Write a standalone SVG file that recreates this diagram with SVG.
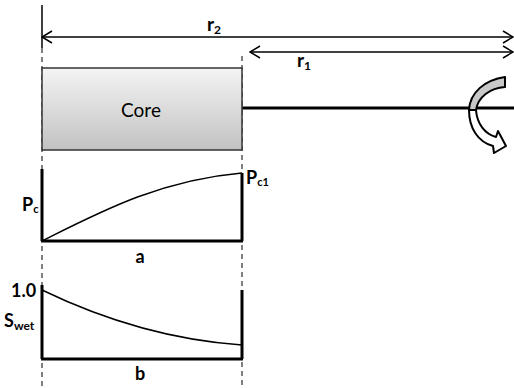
<svg xmlns="http://www.w3.org/2000/svg" width="514" height="388" viewBox="0 0 514 388">
<defs>
<linearGradient id="coreGrad" x1="0" y1="0" x2="0" y2="1">
<stop offset="0" stop-color="#f4f4f4"/>
<stop offset="1" stop-color="#c2c2c2"/>
</linearGradient>
<marker id="chev" viewBox="0 0 12 14" refX="11" refY="7" markerWidth="12" markerHeight="14" markerUnits="userSpaceOnUse" orient="auto-start-reverse">
<path d="M1,1 L11,7 L1,13" fill="none" stroke="#000" stroke-width="1.5"/>
</marker>
</defs>
<style>
.lbl{font-family:"Lato","Open Sans","Liberation Sans",sans-serif;font-weight:bold;fill:#000;}
.dash{stroke:#000;stroke-width:1;stroke-dasharray:5,4;fill:none;}
.thick{stroke:#000;stroke-width:3;fill:none;}
.thin{stroke:#000;stroke-width:1.5;fill:none;}
</style>
<g id="connectors">
<line x1="42" y1="5" x2="42" y2="48" stroke="#000" stroke-width="1.5"/>
<line class="dash" x1="42" y1="48" x2="42" y2="388"/>
<line class="dash" x1="242" y1="56" x2="242" y2="388"/>
<line class="thin" x1="42" y1="37" x2="513" y2="37" marker-start="url(#chev)" marker-end="url(#chev)"/>
<line class="thin" x1="250" y1="52" x2="513" y2="52" marker-start="url(#chev)" marker-end="url(#chev)"/>
<line x1="242" y1="108" x2="514" y2="108" stroke="#000" stroke-width="3"/>
</g>
<g id="core">
<rect x="42" y="68" width="200" height="82" fill="url(#coreGrad)" stroke="#333" stroke-width="1.5"/>
<text x="141" y="117" font-family="Lato,'Open Sans','Liberation Sans',sans-serif" font-size="19" text-anchor="middle" fill="#000">Core</text>
</g>
<g id="rotation">
<path d="M469,110 C470,92 485,80 505,77 L505,87 C490,88 478,97 476,110 Z" fill="#c8c8c8" stroke="#000" stroke-width="2" stroke-linejoin="round"/>
<path d="M469,110 C469,128 478,142 493,146 L494,153 L506,146 L498,131 L496,137 C485,134 477,124 476,110 Z" fill="#fff" stroke="#000" stroke-width="2" stroke-linejoin="round"/>
</g>
<g id="labels-dim">
<text class="lbl" x="207" y="31" font-size="19">r<tspan font-size="12" dy="3">2</tspan></text>
<text class="lbl" x="297" y="67" font-size="19">r<tspan font-size="12" dy="3">1</tspan></text>
</g>
<g id="plot-a">
<line class="thick" x1="42" y1="169" x2="42" y2="241"/>
<line class="thick" x1="242" y1="173" x2="242" y2="241"/>
<line class="thick" x1="41" y1="241" x2="243" y2="241"/>
<path d="M42,241 C100,212 160,180 242,173" stroke="#000" stroke-width="1.5" fill="none"/>
<text class="lbl" x="22" y="211" font-size="18">P<tspan font-size="11" dy="2">c</tspan></text>
<text class="lbl" x="246" y="184" font-size="18">P<tspan font-size="11" dy="2">c1</tspan></text>
<text class="lbl" x="140" y="263" font-size="18" text-anchor="middle">a</text>
</g>
<g id="plot-b">
<line class="thick" x1="42" y1="285" x2="42" y2="359"/>
<line class="thick" x1="242" y1="290" x2="242" y2="359"/>
<line class="thick" x1="41" y1="359" x2="243" y2="359"/>
<path d="M42,290 C100,318 170,340 242,345" stroke="#000" stroke-width="1.5" fill="none"/>
<text class="lbl" x="11" y="297" font-size="18">1.0</text>
<text class="lbl" x="4" y="327" font-size="18">S<tspan font-size="12" dy="3">wet</tspan></text>
<text class="lbl" x="140" y="380" font-size="18" text-anchor="middle">b</text>
</g>
</svg>
